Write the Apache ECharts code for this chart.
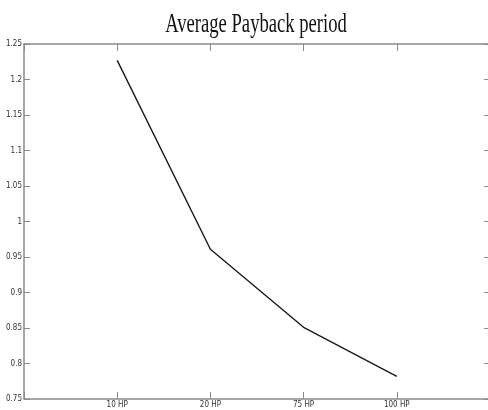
<!DOCTYPE html>
<html>
<head>
<meta charset="utf-8">
<script src="https://cdn.jsdelivr.net/npm/echarts@6/dist/echarts.min.js"></script>
<style>
  html, body { margin: 0; padding: 0; background: #fff; }
  #chart { width: 488px; height: 410px; }
</style>
</head>
<body>
<div id="chart"></div>
<script>
// padded with empty slots so the plot starts/ends half a step away
var categories = ['', '10 HP', '20 HP', '75 HP', '100 HP', '']
var payback = [null, 1.227, 0.961, 0.851, 0.782, null]

var axisGray = '#8a8a8a'
var tickFont = "'Liberation Sans Narrow', 'DejaVu Sans Condensed', sans-serif"

var myChart = echarts.init(document.getElementById('chart'))
var option = {
  animation: false,
  // title drawn as graphic text so it can be squeezed like the original
  graphic: [
    {
      type: 'text',
      x: 256,
      y: 25,
      scaleX: 0.69,
      style: {
        text: 'Average Payback period',
        fontFamily: "'Liberation Serif', 'DejaVu Serif', serif",
        fontSize: 27,
        fill: '#111',
        align: 'center',
        verticalAlign: 'middle'
      }
    }
  ],
  grid: {
    left: 24,
    width: 466,
    top: 44,
    bottom: 11,
    // right edge of the frame runs just past the picture
    outerBoundsMode: 'none'
  },
  xAxis: [
    {
      type: 'category',
      data: categories,
      boundaryGap: false,
      axisLine: { lineStyle: { color: axisGray, width: 1.5 } },
      axisTick: { inside: true, length: 7, lineStyle: { color: axisGray } },
      axisLabel: {
        color: '#333',
        fontSize: 8,
        fontFamily: tickFont,
        margin: 2,
        interval: 0
      },
      splitLine: { show: false }
    },
    {
      type: 'category',
      data: categories,
      boundaryGap: false,
      position: 'top',
      axisLine: { lineStyle: { color: axisGray, width: 1.5 } },
      axisTick: { inside: true, length: 7, lineStyle: { color: axisGray } },
      axisLabel: { show: false },
      splitLine: { show: false }
    }
  ],
  yAxis: [
    {
      type: 'value',
      min: 0.75,
      max: 1.25,
      interval: 0.05,
      axisLine: { show: true, lineStyle: { color: axisGray, width: 1.5 } },
      axisTick: { show: true, inside: true, length: 6, lineStyle: { color: axisGray } },
      axisLabel: {
        color: '#333',
        fontSize: 8,
        fontFamily: tickFont,
        margin: 2,
        formatter: function (v) { return String(+v.toFixed(2)) }
      },
      splitLine: { show: false }
    },
    {
      type: 'value',
      min: 0.75,
      max: 1.25,
      interval: 0.05,
      position: 'right',
      axisLine: { show: true, lineStyle: { color: axisGray, width: 1.5 } },
      axisTick: { show: true, inside: true, length: 6, lineStyle: { color: axisGray } },
      axisLabel: { show: false },
      splitLine: { show: false }
    }
  ],
  series: [
    {
      name: 'Average Payback period',
      type: 'line',
      data: payback,
      showSymbol: false,
      symbol: 'none',
      lineStyle: { color: '#1a1a1a', width: 1.4 }
    }
  ]
}
myChart.setOption(option)
</script>
</body>
</html>
